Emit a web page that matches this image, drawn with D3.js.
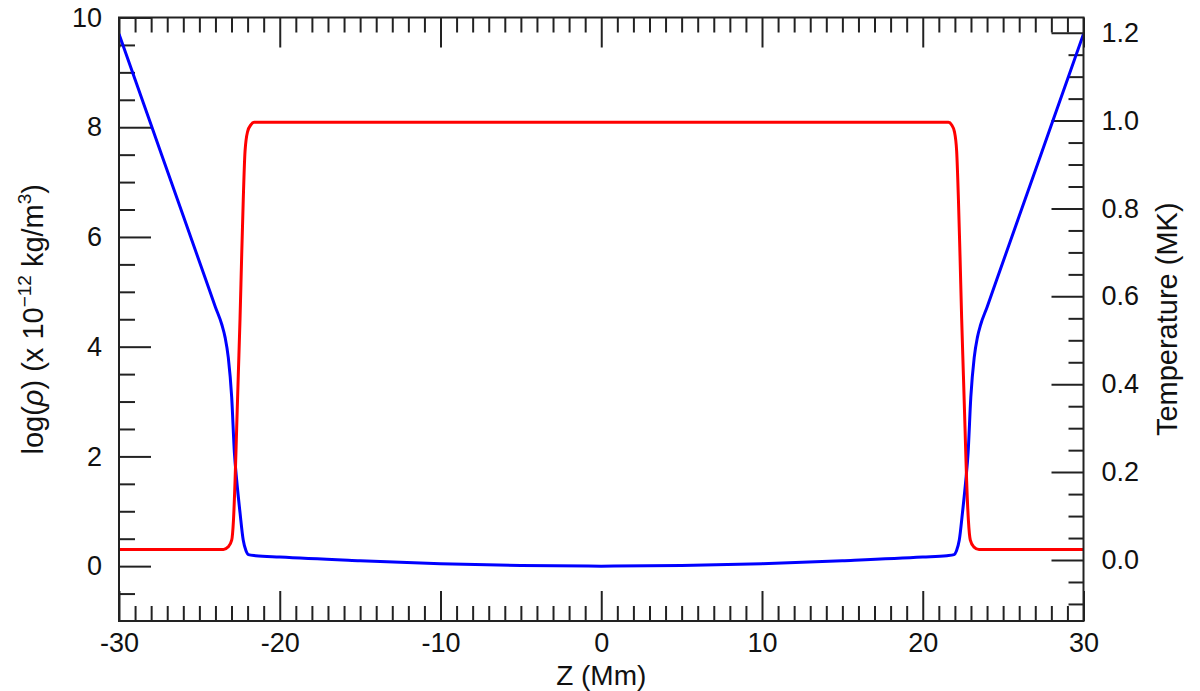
<!DOCTYPE html>
<html>
<head>
<meta charset="utf-8">
<script src="https://cdn.jsdelivr.net/npm/d3@7"></script>
<style>
  html, body { margin: 0; padding: 0; background: #fff; }
  svg text { font-family: "Liberation Sans", Arial, Helvetica, sans-serif; fill: #111; }
</style>
</head>
<body>
<svg id="chart" width="1200" height="691"></svg>
<script>
// ---- data ----
const zDensity = [-30, -28, -26, -24.6, -24.0, -23.6, -23.4, -23.2, -22.99, -22.82, -22.68, -22.47, -22.27, -22.1, -21.95, -21.5, -20, -15, -10, -5, 0,
                  5, 10, 15, 20, 21.5, 21.95, 22.1, 22.27, 22.47, 22.68, 22.82, 22.99, 23.2, 23.4, 23.6, 24.0, 24.6, 26, 28, 30];
const logRho   = [9.70, 8.04, 6.38, 5.22, 4.72, 4.40, 4.17, 3.80, 3.08, 2.06, 1.57, 0.97, 0.47, 0.28, 0.21, 0.19, 0.165, 0.10, 0.045, 0.012, 0,
                  0.012, 0.045, 0.10, 0.165, 0.19, 0.21, 0.28, 0.47, 0.97, 1.57, 2.06, 3.08, 3.80, 4.17, 4.40, 4.72, 5.22, 6.38, 8.04, 9.70];

const zTemp   = [-30, -23.5, -23.2, -22.99, -22.88, -22.78, -22.68, -22.58, -22.47, -22.37, -22.27, -22.16, -22.0, -21.8, -21.6,
                 21.6, 21.8, 21.97, 22.11, 22.22, 22.32, 22.42, 22.53, 22.63, 22.73, 22.84, 22.96, 23.17, 23.5, 30];
const tempMK  = [0.024, 0.024, 0.030, 0.045, 0.09, 0.18, 0.30, 0.42, 0.55, 0.69, 0.82, 0.93, 0.975, 0.99, 0.996,
                 0.996, 0.99, 0.975, 0.93, 0.82, 0.69, 0.55, 0.42, 0.30, 0.18, 0.09, 0.045, 0.030, 0.024, 0.024];

const xMajor = [-30, -20, -10, 0, 10, 20, 30];
const xMinor = d3.range(-29, 30, 1).filter(v => v % 10 !== 0);
const yLeftMajor = [0, 2, 4, 6, 8, 10];
const yLeftMinor = [-0.5, 0.5, 1, 1.5, 2.5, 3, 3.5, 4.5, 5, 5.5, 6.5, 7, 7.5, 8.5, 9, 9.5];
const yRightMajor = [0.0, 0.2, 0.4, 0.6, 0.8, 1.0, 1.2];
const yRightMinor = [-0.1, -0.05, 0.05, 0.1, 0.15, 0.25, 0.3, 0.35, 0.45, 0.5, 0.55, 0.65, 0.7, 0.75, 0.85, 0.9, 0.95, 1.05, 1.1, 1.15];

// ---- layout ----
const L = 119, R = 1083.5, T = 17.5, B = 621;
const svg = d3.select("#chart");

const x = d3.scaleLinear().domain([-30, 30]).range([L, R]);
const yL = d3.scaleLinear().domain([-1, 10]).range([B, T]);
const yR = d3.scaleLinear().domain([-0.1388, 1.2346]).range([B, T]);

const ink = "#222";
const tickFont = 27;

function styleAxis(g) {
  g.select(".domain").remove();
  g.selectAll(".tick line").attr("stroke", ink).attr("stroke-width", 2);
  g.selectAll(".tick text").attr("font-size", tickFont).attr("fill", "#111")
    .attr("font-family", '"Liberation Sans", Arial, Helvetica, sans-serif');
}

// minor ticks
svg.append("g").attr("transform", `translate(0,${B})`)
  .call(d3.axisBottom(x).tickValues(xMinor).tickSize(-15).tickFormat(""))
  .call(styleAxis);
svg.append("g").attr("transform", `translate(0,${T})`)
  .call(d3.axisTop(x).tickValues(xMinor).tickSize(-15).tickFormat(""))
  .call(styleAxis);
svg.append("g").attr("transform", `translate(${L},0)`)
  .call(d3.axisLeft(yL).tickValues(yLeftMinor).tickSize(-16).tickFormat(""))
  .call(styleAxis);
svg.append("g").attr("transform", `translate(${R},0)`)
  .call(d3.axisRight(yR).tickValues(yRightMinor).tickSize(-15).tickFormat(""))
  .call(styleAxis);

// major ticks
svg.append("g").attr("transform", `translate(0,${B})`)
  .call(d3.axisBottom(x).tickValues(xMajor).tickSize(-30).tickPadding(12).tickFormat(d => String(d)))
  .call(styleAxis);
svg.append("g").attr("transform", `translate(0,${T})`)
  .call(d3.axisTop(x).tickValues(xMajor).tickSize(-30).tickFormat(""))
  .call(styleAxis);
svg.append("g").attr("transform", `translate(${L},0)`)
  .call(d3.axisLeft(yL).tickValues(yLeftMajor).tickSize(-32).tickPadding(17).tickFormat(d => String(d)))
  .call(styleAxis);
svg.append("g").attr("transform", `translate(${R},0)`)
  .call(d3.axisRight(yR).tickValues(yRightMajor).tickSize(-32).tickPadding(18).tickFormat(d3.format(".1f")))
  .call(styleAxis);

// clip
svg.append("clipPath").attr("id", "plotclip")
  .append("rect").attr("x", L).attr("y", T).attr("width", R - L).attr("height", B - T);

const plot = svg.append("g").attr("clip-path", "url(#plotclip)");

const densLine = d3.line()
  .x((d, i) => x(zDensity[i]))
  .y((d, i) => yL(logRho[i]))
  .curve(d3.curveMonotoneX);
const tempLine = d3.line()
  .x((d, i) => x(zTemp[i]))
  .y((d, i) => yR(tempMK[i]))
  .curve(d3.curveMonotoneX);

plot.append("path").datum(logRho).attr("d", densLine)
  .attr("fill", "none").attr("stroke", "#0000ff").attr("stroke-width", 3).attr("stroke-linejoin", "round");
plot.append("path").datum(tempMK).attr("d", tempLine)
  .attr("fill", "none").attr("stroke", "#ff0000").attr("stroke-width", 3).attr("stroke-linejoin", "round");

// frame
svg.append("rect").attr("x", L).attr("y", T).attr("width", R - L).attr("height", B - T)
  .attr("fill", "none").attr("stroke", ink).attr("stroke-width", 2);

// titles
const titleFont = 29;
svg.append("text").attr("x", (L + R) / 2).attr("y", 685).attr("text-anchor", "middle")
  .attr("font-size", 28).text("Z (Mm)");

const lt = svg.append("text").attr("transform", `translate(43,${(T + B) / 2}) rotate(-90)`)
  .attr("text-anchor", "middle").attr("font-size", titleFont);
lt.append("tspan").text("log(");
lt.append("tspan").attr("font-style", "italic").text("ρ");
lt.append("tspan").text(") (x 10");
lt.append("tspan").attr("font-size", 19).attr("dy", -12).text("−12");
lt.append("tspan").attr("dy", 12).text(" kg/m");
lt.append("tspan").attr("font-size", 19).attr("dy", -12).text("3");
lt.append("tspan").attr("dy", 12).text(")");

svg.append("text").attr("transform", `translate(1177,${(T + B) / 2}) rotate(-90)`)
  .attr("text-anchor", "middle").attr("font-size", titleFont).text("Temperature (MK)");
</script>
</body>
</html>
